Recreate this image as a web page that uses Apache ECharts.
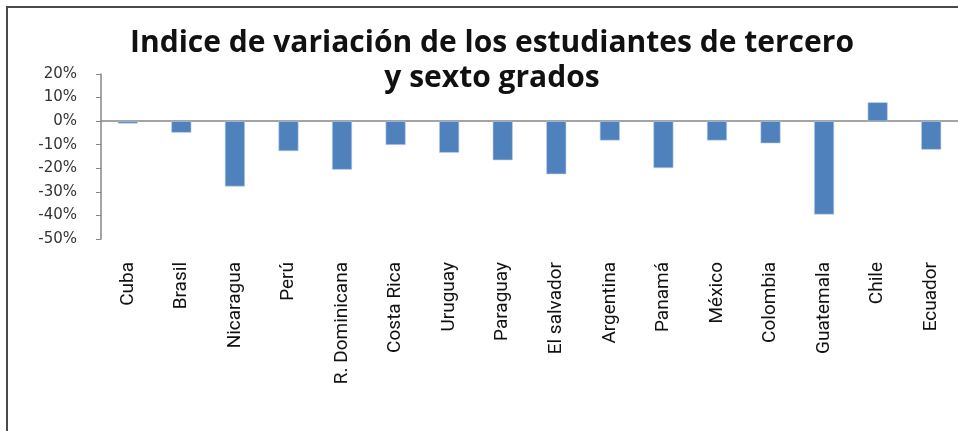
<!DOCTYPE html>
<html>
<head>
<meta charset="utf-8">
<script src="https://cdn.jsdelivr.net/npm/echarts@6/dist/echarts.min.js"></script>
<style>
  html, body { margin: 0; padding: 0; background: #fff; }
  #frame { position: absolute; left: 6px; top: 6px; width: 1000px; height: 500px;
           border-top: 2px solid #4a4a4a; border-left: 2px solid #4a4a4a; }
  #chart { position: absolute; left: 0; top: 0; width: 958px; height: 431px; }
</style>
</head>
<body>
<div id="frame"></div>
<div id="chart"></div>
<script>
const countries = ['Cuba', 'Brasil', 'Nicaragua', 'Perú', 'R. Dominicana', 'Costa Rica', 'Uruguay', 'Paraguay',
  'El salvador', 'Argentina', 'Panamá', 'México', 'Colombia', 'Guatemala', 'Chile', 'Ecuador']
const variation = [-1.0, -4.9, -27.7, -12.7, -20.6, -10.1, -13.4, -16.6,
  -22.5, -8.2, -19.9, -8.2, -9.4, -39.6, 8.0, -12.1]
const yTicks = { min: -50, max: 20, interval: 10 }
const titleLines = ['Indice de variación de los estudiantes de tercero', 'y sexto grados']

const axisGray = '#868686'
const chart = echarts.init(document.getElementById('chart'))

chart.setOption({
  animation: false,
  title: {
    text: titleLines.join('\n'),
    left: 487,
    textAlign: 'center',
    top: 21,
    textStyle: { fontFamily: 'Open Sans', fontWeight: 'bold', fontSize: 30, lineHeight: 35, color: '#111' },
  },
  grid: { left: 101, right: -9, top: 74, bottom: 192 },
  xAxis: [
    {
      // zero line with boundary ticks pointing up
      type: 'category',
      data: countries,
      axisLine: { onZero: true, lineStyle: { color: axisGray, width: 1.5 } },
      axisTick: { inside: true, length: 7, lineStyle: { color: axisGray } },
      axisLabel: { show: false },
    },
    {
      // centre ticks, upper half
      type: 'category',
      data: countries,
      axisLine: { show: false, onZero: true },
      axisTick: { alignWithLabel: true, inside: true, length: 4, lineStyle: { color: axisGray } },
      axisLabel: { show: false },
    },
    {
      // centre ticks, lower half
      type: 'category',
      data: countries,
      axisLine: { show: false, onZero: true },
      axisTick: { alignWithLabel: true, length: 4, lineStyle: { color: axisGray } },
      axisLabel: { show: false },
    },
    {
      // country labels below the plot
      type: 'category',
      data: countries,
      position: 'bottom',
      axisLine: { show: false, onZero: false },
      axisTick: { show: false },
      axisLabel: {
        rotate: 90,
        margin: 23,
        interval: 0,
        fontFamily: 'Roboto',
        fontSize: 19,
        color: '#111',
      },
    },
  ],
  yAxis: {
    type: 'value',
    min: yTicks.min,
    max: yTicks.max,
    interval: yTicks.interval,
    splitLine: { show: false },
    axisLine: { show: true, lineStyle: { color: axisGray, width: 1.5 } },
    axisTick: { show: true, length: 5, lineStyle: { color: axisGray } },
    axisLabel: {
      formatter: '{value}%',
      margin: 24,
      fontFamily: 'DejaVu Sans',
      fontSize: 15,
      color: '#333',
    },
  },
  series: [
    {
      type: 'bar',
      data: variation,
      barWidth: 20,
      itemStyle: { color: '#4F81BD', borderColor: '#b9cde5', borderWidth: 0.6 },
      z: 1,
    },
  ],
})
</script>
</body>
</html>
